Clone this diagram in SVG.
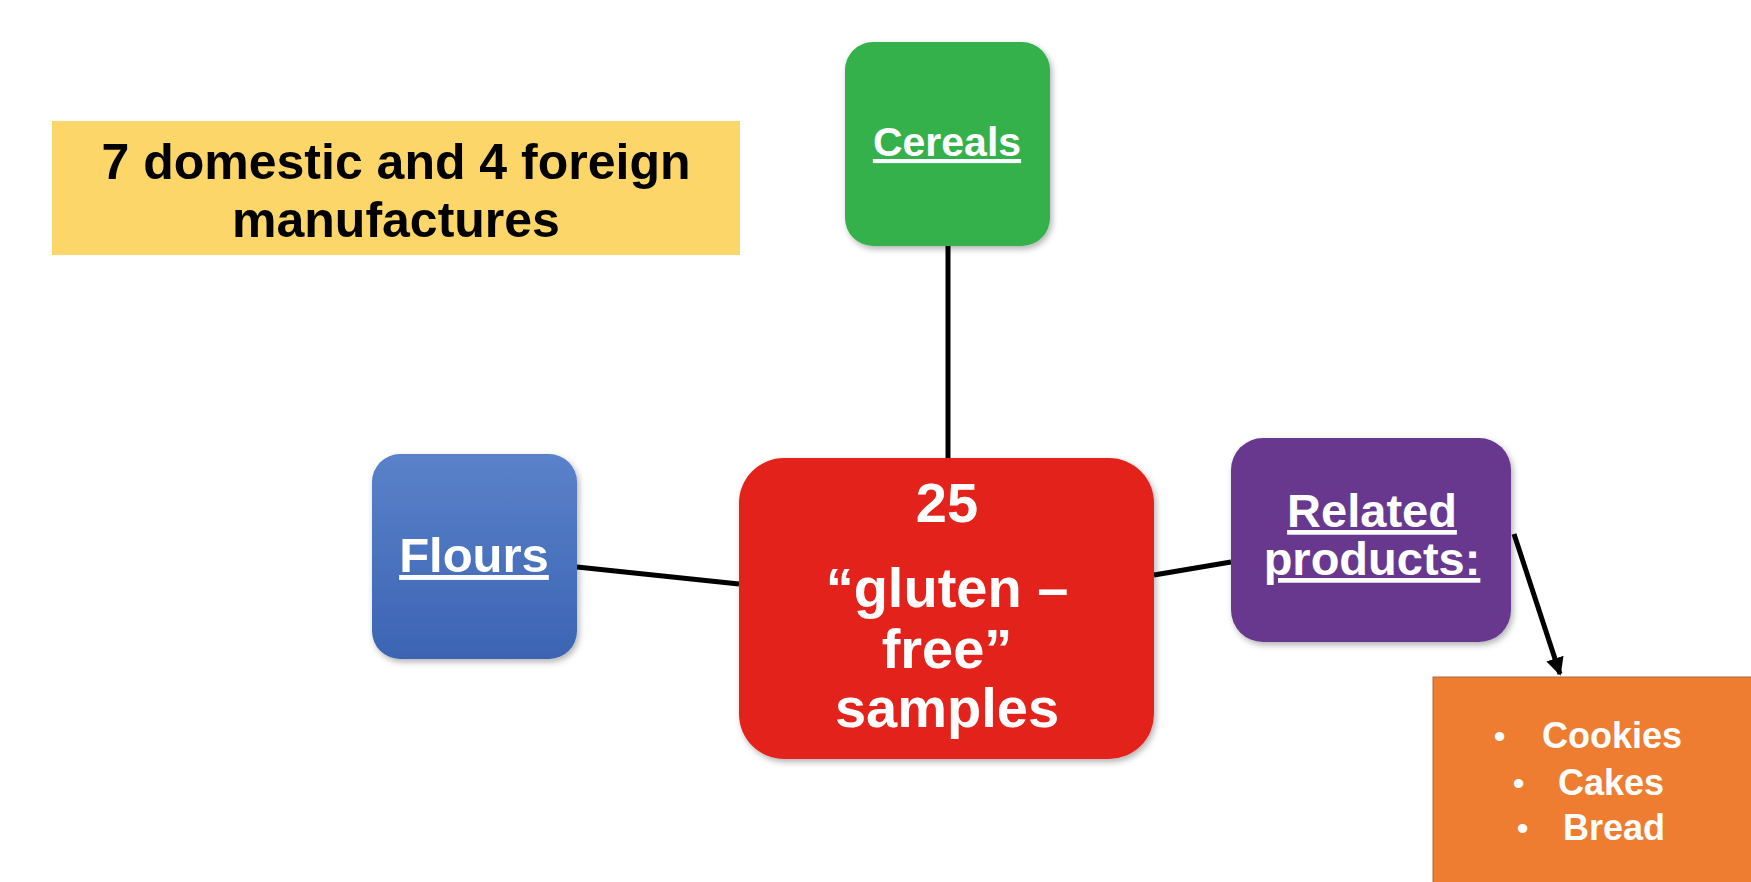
<svg xmlns="http://www.w3.org/2000/svg" width="1751" height="882" viewBox="0 0 1751 882">
<defs>
<style>
.t{font-family:"Liberation Sans",Arial,sans-serif;font-weight:bold;text-anchor:middle}
.s{font-family:"Liberation Sans",Arial,sans-serif;font-weight:bold;fill:#ffffff}
.w{fill:#ffffff}
.k{fill:#000000}
.ul{text-decoration:underline}
.c{stroke:#000;stroke-width:5;fill:none}
</style>
<filter id="sh" x="-10%" y="-10%" width="125%" height="125%">
<feDropShadow dx="2" dy="3" stdDeviation="3" flood-color="#000" flood-opacity="0.3"/>
</filter>
<linearGradient id="gb" x1="0" y1="0" x2="0" y2="1"><stop offset="0" stop-color="#5A82CA"/><stop offset="1" stop-color="#3B64B2"/></linearGradient>
<marker id="ah" viewBox="0 0 10 10" refX="9" refY="5" markerWidth="3.6" markerHeight="3.6" orient="auto" markerUnits="strokeWidth">
<path d="M0,0 L10,5 L0,10 z" fill="#000"/>
</marker>
</defs>
<rect width="1751" height="882" fill="#ffffff"/>
<g id="connectors">
<line class="c" x1="948" y1="246" x2="948" y2="458"/>
<line class="c" x1="577" y1="567" x2="739" y2="584"/>
<line class="c" x1="1154" y1="575" x2="1231" y2="562"/>
<line class="c" x1="1514" y1="534" x2="1560" y2="674" marker-end="url(#ah)"/>
</g>
<g id="manufacturers">
<rect x="52" y="121" width="688" height="134" fill="#FCD668"/>
<text class="t k" x="396" y="179" font-size="50">7 domestic and 4 foreign</text>
<text class="t k" x="396" y="237" font-size="50">manufactures</text>
</g>
<g id="cereals">
<rect x="845" y="42" width="205" height="204" rx="28" fill="#34B14B" filter="url(#sh)"/>
<text class="t w ul" x="947" y="156" font-size="41">Cereals</text>
</g>
<g id="flours">
<rect x="372" y="454" width="205" height="205" rx="28" fill="url(#gb)" filter="url(#sh)"/>
<text class="t w ul" x="474" y="572" font-size="49">Flours</text>
</g>
<g id="samples">
<rect x="739" y="458" width="415" height="301" rx="45" fill="#E3231F" filter="url(#sh)"/>
<text class="t w" x="947" y="522" font-size="56">25</text>
<text class="t w" x="947" y="607" font-size="56">“gluten –</text>
<text class="t w" x="947" y="668" font-size="56">free”</text>
<text class="t w" x="947" y="727" font-size="56">samples</text>
</g>
<g id="related">
<rect x="1231" y="438" width="280" height="204" rx="32" fill="#67398F" filter="url(#sh)"/>
<text class="t w ul" x="1372" y="527" font-size="47">Related</text>
<text class="t w ul" x="1372" y="575" font-size="47">products:</text>
</g>
<g id="products">
<rect x="1433" y="677" width="330" height="220" fill="#EE7D31" stroke="#B0653A" stroke-width="1"/>
<text class="s" x="1494" y="747" font-size="32">•</text>
<text class="s" x="1542" y="748" font-size="36">Cookies</text>
<text class="s" x="1513" y="794" font-size="32">•</text>
<text class="s" x="1558" y="795" font-size="36">Cakes</text>
<text class="s" x="1517" y="839" font-size="32">•</text>
<text class="s" x="1563" y="840" font-size="36">Bread</text>
</g>
</svg>
